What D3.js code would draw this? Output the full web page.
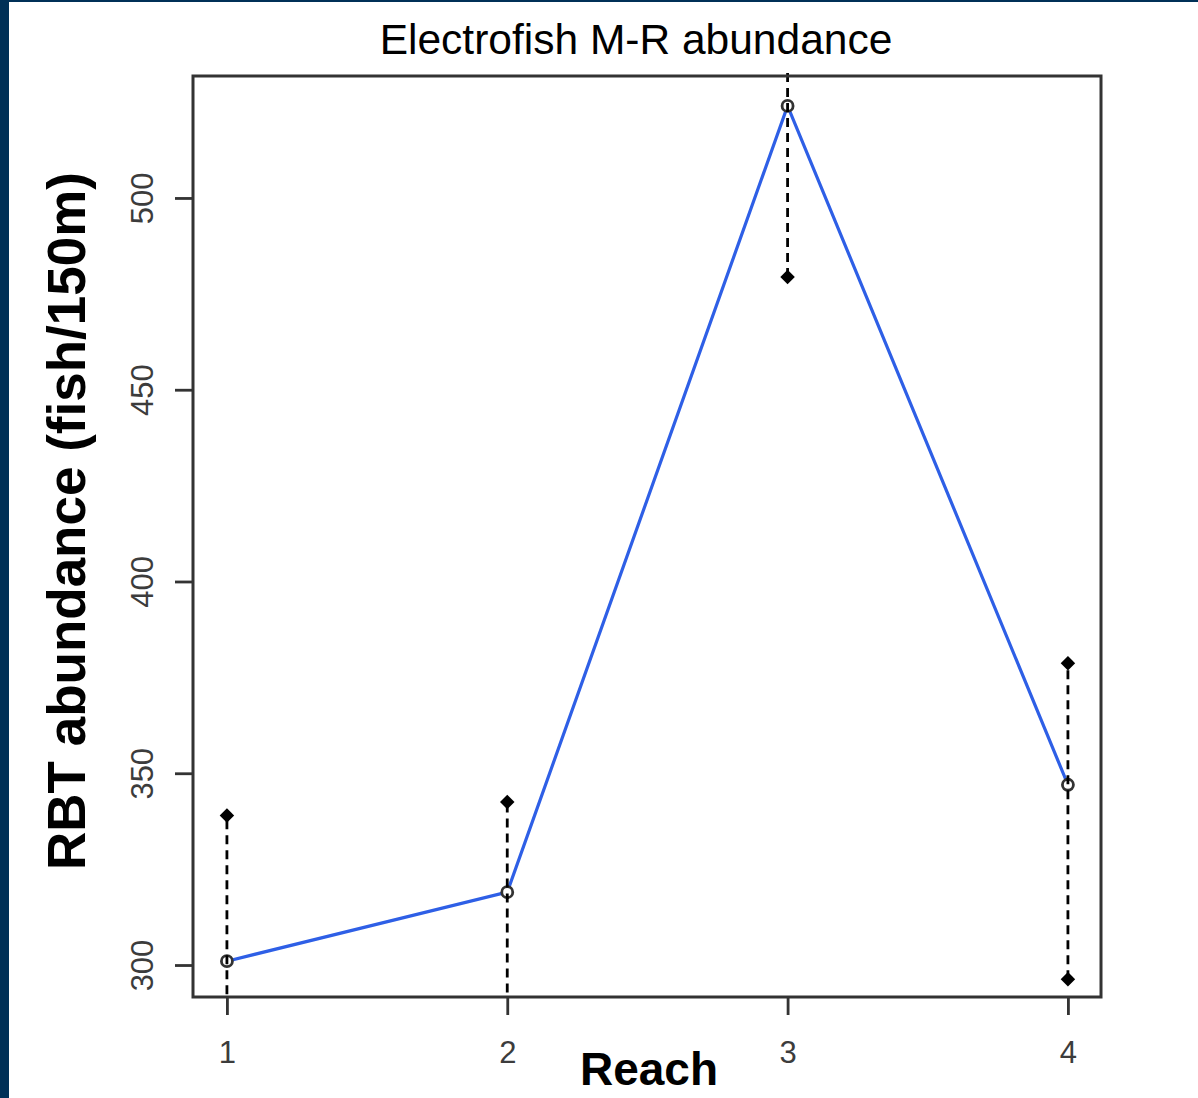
<!DOCTYPE html>
<html>
<head>
<meta charset="utf-8">
<script src="https://cdn.jsdelivr.net/npm/d3@7"></script>
<style>
  html, body { margin: 0; padding: 0; background: #fff; }
  svg { display: block; }
</style>
</head>
<body>
<svg id="chart" width="1198" height="1098"></svg>
<script>
// ---- data ----
const reaches = [1, 2, 3, 4];
const estimate = [301, 319, 524, 347];
const upperCI = [339, 342.5, 570, 378.7];
const lowerCI = [265, 285, 479.4, 296.3];
const yTicks = [300, 350, 400, 450, 500];
const xTicks = [1, 2, 3, 4];
const titleText = "Electrofish M-R abundance";
const xLabel = "Reach";
const yLabel = "RBT abundance (fish/150m)";

// ---- layout ----
const W = 1198, H = 1098;
const box = { left: 193, top: 76, right: 1101, bottom: 997 };
const svg = d3.select("#chart");

svg.append("rect").attr("x", 0).attr("y", 0).attr("width", W).attr("height", H).attr("fill", "#fff");
svg.append("rect").attr("x", 0).attr("y", 0).attr("width", 9).attr("height", H).attr("fill", "#003057");
svg.append("rect").attr("x", 0).attr("y", 0).attr("width", W).attr("height", 2).attr("fill", "#003057");

const x = d3.scaleLinear().domain([0.879, 4.118]).range([box.left, box.right]);
const y = d3.scaleLinear().domain([291.66, 531.8]).range([box.bottom, box.top]);

const font = "'Liberation Sans', Arial, Helvetica, sans-serif";

// clip for error bars
svg.append("clipPath").attr("id", "plotclip")
  .append("rect")
  .attr("x", box.left).attr("y", box.top - 4)
  .attr("width", box.right - box.left).attr("height", box.bottom - box.top + 4);

// axes
const yAxis = d3.axisLeft(y).tickValues(yTicks).tickSize(18).tickPadding(22).tickFormat(d3.format("d"));
const gy = svg.append("g").attr("transform", `translate(${box.left},0)`).call(yAxis);
gy.select(".domain").remove();
gy.selectAll(".tick line").attr("stroke", "#333").attr("stroke-width", 2.8);
gy.selectAll(".tick text")
  .attr("fill", "#3c3c3c")
  .style("font-family", font).style("font-size", "31px")
  .attr("x", null).attr("dy", null)
  .attr("text-anchor", "middle")
  .attr("transform", "translate(-40,0) rotate(-90)");

const xAxis = d3.axisBottom(x).tickValues(xTicks).tickSize(18).tickPadding(22).tickFormat(d3.format("d"));
const gx = svg.append("g").attr("transform", `translate(0,${box.bottom})`).call(xAxis);
gx.select(".domain").remove();
gx.selectAll(".tick line").attr("stroke", "#333").attr("stroke-width", 2.8);
gx.selectAll(".tick text")
  .attr("fill", "#3c3c3c")
  .style("font-family", font).style("font-size", "31px")
  .attr("y", 66).attr("dy", null);

// blue line
const line = d3.line().x((d, i) => x(reaches[i])).y(d => y(d));
svg.append("path").datum(estimate)
  .attr("d", line)
  .attr("fill", "none")
  .attr("stroke", "#2e5fe6")
  .attr("stroke-width", 3.2);

// points
svg.selectAll("circle.pt").data(estimate).enter().append("circle")
  .attr("class", "pt")
  .attr("cx", (d, i) => x(reaches[i]))
  .attr("cy", d => y(d))
  .attr("r", 5.5)
  .attr("fill", "#fff")
  .attr("stroke", "#333")
  .attr("stroke-width", 2.8);

// error bars
const eb = svg.append("g").attr("clip-path", "url(#plotclip)");
eb.selectAll("line.eb").data(reaches).enter().append("line")
  .attr("class", "eb")
  .attr("x1", d => x(d)).attr("x2", d => x(d))
  .attr("y1", (d, i) => y(lowerCI[i]))
  .attr("y2", (d, i) => y(upperCI[i]))
  .attr("stroke", "#000")
  .attr("stroke-width", 2.8)
  .attr("stroke-dasharray", "9,6");

const diamond = d3.symbol().type(d3.symbolSquare).size(105);
const ends = [];
reaches.forEach((r, i) => { ends.push([r, upperCI[i]]); ends.push([r, lowerCI[i]]); });
eb.selectAll("path.dm").data(ends).enter().append("path")
  .attr("class", "dm")
  .attr("d", diamond)
  .attr("transform", d => `translate(${x(d[0])},${y(d[1])}) rotate(45)`)
  .attr("fill", "#000");

// box
svg.append("rect")
  .attr("x", box.left).attr("y", box.top)
  .attr("width", box.right - box.left).attr("height", box.bottom - box.top)
  .attr("fill", "none").attr("stroke", "#333").attr("stroke-width", 3);

// title
svg.append("text")
  .attr("x", 636).attr("y", 54)
  .attr("text-anchor", "middle")
  .style("font-family", font).style("font-size", "42.5px")
  .attr("fill", "#000")
  .text(titleText);

// x label
svg.append("text")
  .attr("x", 649).attr("y", 1085)
  .attr("text-anchor", "middle")
  .style("font-family", font).style("font-size", "46px").style("font-weight", "bold")
  .attr("fill", "#000")
  .text(xLabel);

// y label
svg.append("text")
  .attr("transform", "translate(85,521) rotate(-90)")
  .attr("text-anchor", "middle")
  .style("font-family", font).style("font-size", "53px").style("font-weight", "bold")
  .attr("fill", "#000")
  .text(yLabel);
</script>
</body>
</html>
